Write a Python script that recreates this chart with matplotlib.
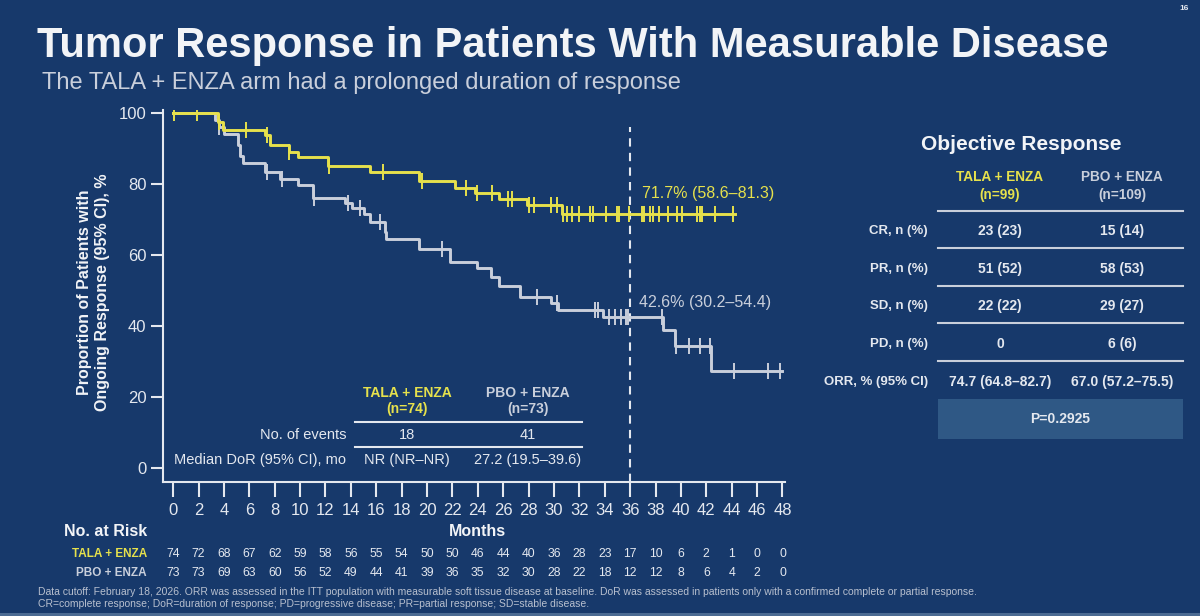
import numpy as np
import matplotlib
matplotlib.use("Agg")
import matplotlib.pyplot as plt
import matplotlib.transforms as mtransforms
from matplotlib.patches import Rectangle

plt.rcParams['font.family'] = ['Liberation Sans', 'DejaVu Sans']

# ---- colours
BG = '#17396b'
YEL = '#e6e14c'
GRY = '#c9cfdb'
TXT = '#e4e8ef'

# ---- KM data (step, post)
tala_t = [0, 3.5, 3.9, 7.2, 7.6, 9.1, 9.8, 12.2, 15.5, 19.4, 22.2, 23.8, 25.7, 27.9, 30.6, 44.3]
tala_s = [100, 97.5, 95.2, 93.8, 91.0, 89.0, 87.6, 85.0, 83.4, 80.9, 78.9, 77.5, 75.8, 74.0, 71.7, 71.7]
tala_cens = [0.1, 1.9, 3.6, 5.7, 7.4, 9.1, 12.3, 16.5, 19.6, 23.1, 23.9, 25.1, 26.4, 26.7, 28.0,
             28.4, 29.8, 30.2, 30.7, 31.0, 31.4, 32.0, 32.8, 33.1, 34.1, 35.0, 35.1, 35.9, 36.9,
             37.1, 37.6, 37.8, 38.3, 39.0, 39.7, 40.1, 41.3, 41.5, 41.7, 42.7, 44.1]

pbo_t = [0, 3.3, 3.6, 4.0, 5.1, 5.3, 5.5, 7.2, 8.4, 9.8, 11.0, 13.5, 14.1, 15.0, 15.5, 16.7, 16.8,
         19.4, 21.8, 23.9, 25.0, 25.7, 27.3, 29.8, 30.3, 33.9, 38.6, 39.5, 42.4, 48.0]
pbo_s = [100, 98, 96, 94, 91, 88, 86, 83.4, 81.6, 79.7, 76, 74.6, 73.2, 71.5, 69.3, 66.5, 64.5,
         61.7, 58, 56.3, 53.8, 51.3, 48.2, 46.5, 44.5, 42.6, 38.9, 34.4, 27.3, 27.3]
pbo_cens = [3.6, 7.4, 8.6, 11.1, 13.8, 14.7, 16.3, 21.2, 28.7, 30.2, 33.2, 33.5, 34.3, 34.8, 35.3,
            35.7, 35.8, 38.5, 39.6, 40.6, 41.5, 42.3, 44.2, 46.9, 47.8]

# ---- risk table
risk_months = list(range(0, 49, 2))
risk_tala = [74, 72, 68, 67, 62, 59, 58, 56, 55, 54, 50, 50, 46, 44, 40, 36, 28, 23, 17, 10, 6, 2, 1, 0, 0]
risk_pbo = [73, 73, 69, 63, 60, 56, 52, 49, 44, 41, 39, 36, 35, 32, 30, 28, 22, 18, 12, 12, 8, 6, 4, 2, 0]

# ---- inner DoR table
dor_rows = ['No. of events', 'Median DoR (95% CI), mo']
dor_tala = ['18', 'NR (NR–NR)']
dor_pbo = ['41', '27.2 (19.5–39.6)']

# ---- objective response table
orr_rows = ['CR, n (%)', 'PR, n (%)', 'SD, n (%)', 'PD, n (%)', 'ORR, % (95% CI)']
orr_tala = ['23 (23)', '51 (52)', '22 (22)', '0', '74.7 (64.8–82.7)']
orr_pbo = ['15 (14)', '58 (53)', '29 (27)', '6 (6)', '67.0 (57.2–75.5)']
p_value = 'P=0.2925'

W, H = 1200, 616
fig = plt.figure(figsize=(12, 6.16), dpi=100, facecolor=BG)


def P(x, y):
    return x / W, 1 - y / H


# title
fig.text(*P(37, 46), 'Tumor Response in Patients With Measurable Disease', color='#f2f4f7',
         fontsize=30, fontweight='bold', va='center', ha='left')
fig.text(*P(42, 83), 'The TALA + ENZA arm had a prolonged duration of response', color=GRY,
         fontsize=17, va='center', ha='left')
fig.text(*P(1184, 8), '16', color=TXT, fontsize=6, va='center', ha='center', fontweight='bold')

# ---- KM axes
ax = fig.add_axes([163 / W, 1 - 482 / H, (785 - 163) / W, (482 - 110) / H])
ax.set_facecolor(BG)
ax.set_xlim(-0.8, 48.2)
ax.set_ylim(-3.9, 100.9)


def km_y(times, surv, c):
    i = np.searchsorted(times, c, side='right') - 1
    return np.array(surv)[i]


for t, s, cens, col in [(pbo_t, pbo_s, pbo_cens, GRY), (tala_t, tala_s, tala_cens, YEL)]:
    ax.step(t, s, where='post', color=col, lw=2.1, zorder=3)
    ax.plot(cens, km_y(t, s, cens), ls='none', marker='|', ms=11, mew=1.4, color=col, zorder=4)

ax.vlines(36, -3.9, 96, colors=TXT, linestyles=(0, (4, 3)), lw=1.5, zorder=2)
ax.text(36.9, 77.5, '71.7% (58.6–81.3)', color=YEL, fontsize=11.5, va='center', ha='left')
ax.text(36.7, 46.8, '42.6% (30.2–54.4)', color=GRY, fontsize=11.5, va='center', ha='left')

for side in ['top', 'right']:
    ax.spines[side].set_visible(False)
for side in ['left', 'bottom']:
    ax.spines[side].set_color(TXT)
    ax.spines[side].set_linewidth(1.5)
ax.set_xticks(risk_months)
ax.set_yticks(range(0, 101, 20))
ax.tick_params(axis='x', colors=TXT, length=11, width=1.5, labelsize=12, pad=4)
ax.tick_params(axis='y', colors=TXT, length=9, width=1.5, labelsize=12, pad=3)

fig.text(*P(93, 292), 'Proportion of Patients with\nOngoing Response (95% CI), %', rotation=90,
         color='#f2f4f7', fontsize=11.5, fontweight='bold', va='center', ha='center', linespacing=1.25)

# ---- inner DoR table
cx1, cx2 = 407, 528
fig.text(*P(cx1, 401), 'TALA + ENZA\n(n=74)', color=YEL, fontsize=10, fontweight='bold',
         ha='center', va='center', linespacing=1.25)
fig.text(*P(cx2, 401), 'PBO + ENZA\n(n=73)', color=GRY, fontsize=10, fontweight='bold',
         ha='center', va='center', linespacing=1.25)
for yy in [422, 447]:
    fig.add_artist(plt.Line2D([355 / W, 582 / W], [1 - yy / H] * 2, color=TXT, lw=1.5))
for i, (lab, a, b) in enumerate(zip(dor_rows, dor_tala, dor_pbo)):
    yy = 435 + i * 25
    fig.text(*P(346, yy), lab, color=TXT, fontsize=10.5, ha='right', va='center')
    fig.text(*P(cx1, yy), a, color=TXT, fontsize=10.5, ha='center', va='center')
    fig.text(*P(cx2, yy), b, color=TXT, fontsize=10.5, ha='center', va='center')

# ---- risk table
bt = mtransforms.blended_transform_factory(ax.transData, fig.transFigure)
ax.text(24, 1 - 532 / H, 'Months', transform=bt, color='#f2f4f7', fontsize=11.5, fontweight='bold',
        ha='center', va='center')
fig.text(*P(147, 532), 'No. at Risk', color='#f2f4f7', fontsize=11.5, fontweight='bold',
         ha='right', va='center')
fig.text(*P(147, 554), 'TALA + ENZA', color=YEL, fontsize=8.5, fontweight='bold', ha='right', va='center')
fig.text(*P(147, 573), 'PBO + ENZA', color=GRY, fontsize=8.5, fontweight='bold', ha='right', va='center')
for m, a, b in zip(risk_months, risk_tala, risk_pbo):
    ax.text(m, 1 - 554 / H, str(a), transform=bt, color=TXT, fontsize=8.8, ha='center', va='center')
    ax.text(m, 1 - 573 / H, str(b), transform=bt, color=TXT, fontsize=8.8, ha='center', va='center')

# ---- objective response table
fig.text(*P(1021, 145), 'Objective Response', color='#f2f4f7', fontsize=15, fontweight='bold',
         ha='center', va='center')
ox1, ox2 = 1000, 1122
fig.text(*P(ox1, 186), 'TALA + ENZA\n(n=99)', color=YEL, fontsize=9.8, fontweight='bold',
         ha='center', va='center', linespacing=1.3)
fig.text(*P(ox2, 186), 'PBO + ENZA\n(n=109)', color=GRY, fontsize=9.8, fontweight='bold',
         ha='center', va='center', linespacing=1.3)
for yy in [211, 248, 286, 323, 361]:
    fig.add_artist(plt.Line2D([938 / W, 1183 / W], [1 - yy / H] * 2, color=GRY, lw=1.5))
for i, (lab, a, b) in enumerate(zip(orr_rows, orr_tala, orr_pbo)):
    yy = 231 + i * 37.7
    fig.text(*P(928, yy), lab, color=TXT, fontsize=9.5, fontweight='bold', ha='right', va='center')
    fig.text(*P(ox1, yy), a, color=TXT, fontsize=10, fontweight='bold', ha='center', va='center')
    fig.text(*P(ox2, yy), b, color=TXT, fontsize=10, fontweight='bold', ha='center', va='center')
fig.add_artist(Rectangle(P(938, 439), (1183 - 938) / W, 40 / H, transform=fig.transFigure,
                         facecolor='#2f5885', edgecolor='none'))
fig.text(*P(1060, 419), p_value, color=TXT, fontsize=10, fontweight='bold', ha='center', va='center')

# ---- footnotes
fig.text(*P(38, 592), 'Data cutoff: February 18, 2026. ORR was assessed in the ITT population with measurable '
         'soft tissue disease at baseline. DoR was assessed in patients only with a confirmed complete or '
         'partial response.', color='#b8c0cf', fontsize=7.5, ha='left', va='center')
fig.text(*P(38, 604), 'CR=complete response; DoR=duration of response; PD=progressive disease; '
         'PR=partial response; SD=stable disease.', color='#b8c0cf', fontsize=7.5, ha='left', va='center')
fig.add_artist(Rectangle((0, 0), 1, 3 / H, transform=fig.transFigure, facecolor='#4b6b93',
                         edgecolor='none'))

fig.savefig('out.png', dpi=100, facecolor=BG)
